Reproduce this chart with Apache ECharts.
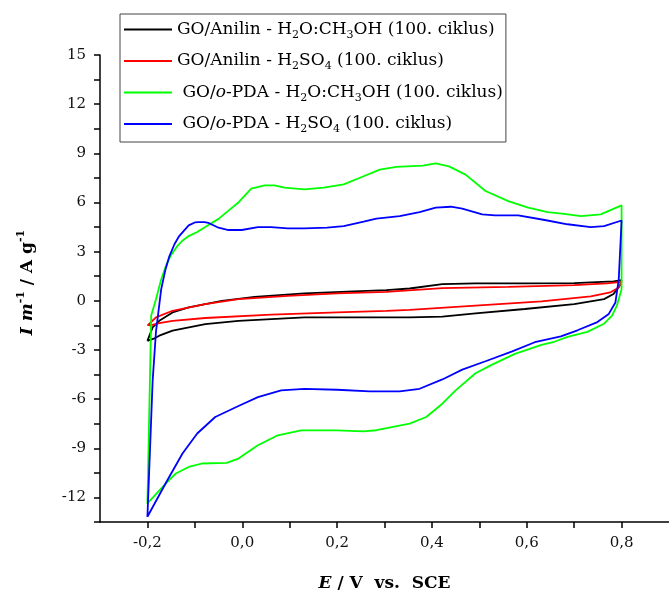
<!DOCTYPE html>
<html>
<head>
<meta charset="utf-8">
<script src="https://cdn.jsdelivr.net/npm/echarts@6/dist/echarts.min.js"></script>
<style>
html,body{margin:0;padding:0;background:#fff;}
#chart{width:669px;height:597px;}
</style>
</head>
<body>
<div id="chart"></div>
<script>
// Series names (legend labels)
const seriesNames = [
  'GO/Anilin - H2O:CH3OH (100. ciklus)',
  'GO/Anilin - H2SO4 (100. ciklus)',
  'GO/o-PDA - H2O:CH3OH (100. ciklus)',
  'GO/o-PDA - H2SO4 (100. ciklus)'
];

// Tick labels
const xTicks = [-0.2, 0.0, 0.2, 0.4, 0.6, 0.8];
const yTicks = [-12, -9, -6, -3, 0, 3, 6, 9, 12, 15];

// GO/Anilin - H2O:CH3OH (black)
const E_black = [-0.200,-0.189,-0.175,-0.147,-0.113,-0.043,0.026,0.131,0.235,0.304,0.353,0.422,0.492,0.596,0.700,0.783,0.800,
                 0.797,0.783,0.763,0.700,0.596,0.492,0.422,0.353,0.304,0.131,-0.008,-0.078,-0.147,-0.175,-0.185,-0.200];
const I_black = [-2.45,-1.62,-1.22,-0.71,-0.40,0.00,0.24,0.45,0.57,0.65,0.75,1.02,1.06,1.06,1.08,1.18,1.26,
                 0.96,0.41,0.10,-0.20,-0.50,-0.77,-0.97,-1.01,-1.01,-1.01,-1.22,-1.42,-1.82,-2.13,-2.29,-2.45];

// GO/Anilin - H2SO4 (red)
const E_red = [-0.200,-0.182,-0.147,-0.078,-0.008,0.096,0.200,0.304,0.422,0.561,0.700,0.769,0.800,
               0.794,0.776,0.735,0.631,0.492,0.353,0.304,0.200,0.061,-0.078,-0.147,-0.175,-0.196];
const I_red = [-1.52,-1.01,-0.61,-0.20,0.10,0.30,0.45,0.55,0.77,0.85,0.95,1.06,1.16,
               0.81,0.51,0.27,-0.04,-0.30,-0.55,-0.61,-0.71,-0.85,-1.05,-1.22,-1.36,-1.52];

// GO/o-PDA - H2O:CH3OH (green)
const E_green = [-0.200,-0.192,-0.182,-0.171,-0.160,-0.150,-0.138,-0.127,-0.113,-0.095,-0.078,-0.050,-0.029,-0.008,0.019,0.047,0.068,0.089,0.131,0.172,0.214,0.256,0.290,0.325,0.381,0.408,0.436,0.471,0.513,0.561,0.603,0.644,0.679,0.714,0.756,0.800,
                 0.800,0.790,0.780,0.763,0.728,0.686,0.658,0.631,0.575,0.526,0.492,0.450,0.422,0.388,0.353,0.283,0.256,0.200,0.124,0.075,0.033,-0.008,-0.033,-0.085,-0.113,-0.140,-0.158,-0.200];
const I_green = [-12.4,-0.9,0.1,1.3,2.2,2.8,3.3,3.65,3.95,4.2,4.5,5.0,5.5,6.0,6.85,7.04,7.04,6.9,6.8,6.9,7.1,7.6,8.0,8.17,8.25,8.38,8.2,7.7,6.7,6.08,5.68,5.41,5.31,5.17,5.27,5.82,
                 0.7,-0.3,-0.9,-1.4,-1.9,-2.2,-2.5,-2.69,-3.24,-3.91,-4.42,-5.47,-6.28,-7.09,-7.5,-7.9,-7.97,-7.91,-7.91,-8.21,-8.82,-9.63,-9.89,-9.93,-10.14,-10.54,-11.05,-12.37];

// GO/o-PDA - H2SO4 (blue)
const E_blue = [-0.200,-0.189,-0.182,-0.171,-0.162,-0.154,-0.143,-0.133,-0.113,-0.100,-0.092,-0.080,-0.071,-0.050,-0.029,-0.001,0.033,0.061,0.096,0.131,0.179,0.214,0.256,0.283,0.332,0.374,0.408,0.440,0.464,0.506,0.533,0.582,0.638,0.686,0.735,0.763,0.800,
                0.794,0.787,0.773,0.749,0.707,0.672,0.617,0.568,0.513,0.464,0.422,0.374,0.332,0.269,0.200,0.131,0.082,0.033,-0.008,-0.057,-0.095,-0.126,-0.158,-0.200];
const I_blue = [-13.2,-4.9,-1.9,0.7,1.9,2.7,3.45,3.95,4.6,4.78,4.8,4.8,4.75,4.46,4.32,4.32,4.5,4.5,4.42,4.42,4.46,4.56,4.83,5.02,5.17,5.41,5.68,5.74,5.62,5.27,5.21,5.21,4.93,4.67,4.5,4.56,4.9,
                1.3,-0.1,-0.8,-1.3,-1.8,-2.17,-2.53,-3.1,-3.69,-4.2,-4.8,-5.37,-5.53,-5.53,-5.43,-5.37,-5.47,-5.88,-6.42,-7.09,-8.1,-9.32,-10.95,-13.18];

const colors = ['#000000', '#ff0000', '#00ff00', '#0000ff'];
const Es = [E_black, E_red, E_green, E_blue];
const Is = [I_black, I_red, I_green, I_blue];

const legendLabels = [
  '{n|GO/Anilin - H}{s|2}{n|O:CH}{s|3}{n|OH (100. ciklus)}',
  '{n|GO/Anilin - H}{s|2}{n|SO}{s|4}{n| (100. ciklus)}',
  '{n| GO/}{i|o}{n|-PDA - H}{s|2}{n|O:CH}{s|3}{n|OH (100. ciklus)}',
  '{n| GO/}{i|o}{n|-PDA - H}{s|2}{n|SO}{s|4}{n| (100. ciklus)}'
];

const FONT = 'DejaVu Serif';
const chart = echarts.init(document.getElementById('chart'), null, {renderer: 'canvas'});

const fmtComma = v => v.toFixed(1).replace('.', ',');

chart.setOption({
  animation: false,
  backgroundColor: '#ffffff',
  grid: {left: 100, right: -7, top: 55, bottom: 73, containLabel: false},
  legend: {
    orient: 'vertical',
    left: 120, top: 14,
    padding: [7, 3, 7, 4],
    itemGap: 12,
    itemWidth: 48,
    itemHeight: 2,
    icon: 'rect',
    borderColor: '#444',
    borderWidth: 1,
    data: seriesNames,
    formatter: name => legendLabels[seriesNames.indexOf(name)],
    textStyle: {
      rich: {
        n: {fontFamily: FONT, fontSize: 17, color: '#000', lineHeight: 22},
        i: {fontFamily: FONT, fontSize: 17, fontStyle: 'italic', color: '#000', lineHeight: 22},
        s: {fontFamily: FONT, fontSize: 11, color: '#000', lineHeight: 8, verticalAlign: 'bottom'}
      }
    }
  },
  xAxis: {
    type: 'value',
    min: -0.3, max: 0.9, interval: 0.1,
    name: '{it|E}{b| / V  vs.  SCE}',
    nameLocation: 'middle',
    nameGap: 53,
    nameTextStyle: {
      rich: {
        it: {fontFamily: FONT, fontSize: 17, fontWeight: 'bold', fontStyle: 'italic', color: '#000'},
        b: {fontFamily: FONT, fontSize: 17, fontWeight: 'bold', color: '#000'}
      }
    },
    axisLine: {show: true, onZero: false, lineStyle: {color: '#000', width: 1.5}},
    axisTick: {show: true, inside: false, length: 6, lineStyle: {color: '#000', width: 1.5}},
    axisLabel: {
      margin: 14, fontFamily: FONT, fontSize: 15, color: '#111', showMaxLabel: false, showMinLabel: false,
      formatter: v => {
        const r = Math.round(v * 10) / 10;
        return xTicks.some(t => Math.abs(t - r) < 1e-6) ? fmtComma(r) : '';
      }
    },
    splitLine: {show: false}
  },
  yAxis: {
    type: 'value',
    min: -13.5, max: 15, interval: 1.5,
    name: '{bi|I m}{sup|-1}{b| / A g}{sup|-1}',
    nameLocation: 'middle',
    nameRotate: 90,
    nameGap: 60,
    nameTextStyle: {
      padding: [0, 0, 0, 12],
      rich: {
        bi: {fontFamily: FONT, fontSize: 17, fontWeight: 'bold', fontStyle: 'italic', color: '#000', lineHeight: 24},
        b: {fontFamily: FONT, fontSize: 17, fontWeight: 'bold', color: '#000', lineHeight: 24},
        sup: {fontFamily: FONT, fontSize: 11, fontWeight: 'bold', color: '#000', lineHeight: 10, verticalAlign: 'top'}
      }
    },
    axisLine: {show: true, onZero: false, lineStyle: {color: '#000', width: 1.5}},
    axisTick: {show: true, inside: false, length: 6, lineStyle: {color: '#000', width: 1.5}},
    axisLabel: {
      margin: 14, fontFamily: FONT, fontSize: 15, color: '#111',
      formatter: v => {
        const r = Math.round(v * 10) / 10;
        return yTicks.some(t => Math.abs(t - r) < 1e-6) ? String(r) : '';
      }
    },
    splitLine: {show: false}
  },
  series: seriesNames.map((nm, k) => ({
    name: nm,
    type: 'line',
    data: Es[k].map((e, j) => [e, Is[k][j]]),
    showSymbol: false,
    symbol: 'none',
    smooth: false,
    clip: false,
    color: colors[k],
    lineStyle: {color: colors[k], width: 1.8},
    z: 2 + k
  }))
});
</script>
</body>
</html>
